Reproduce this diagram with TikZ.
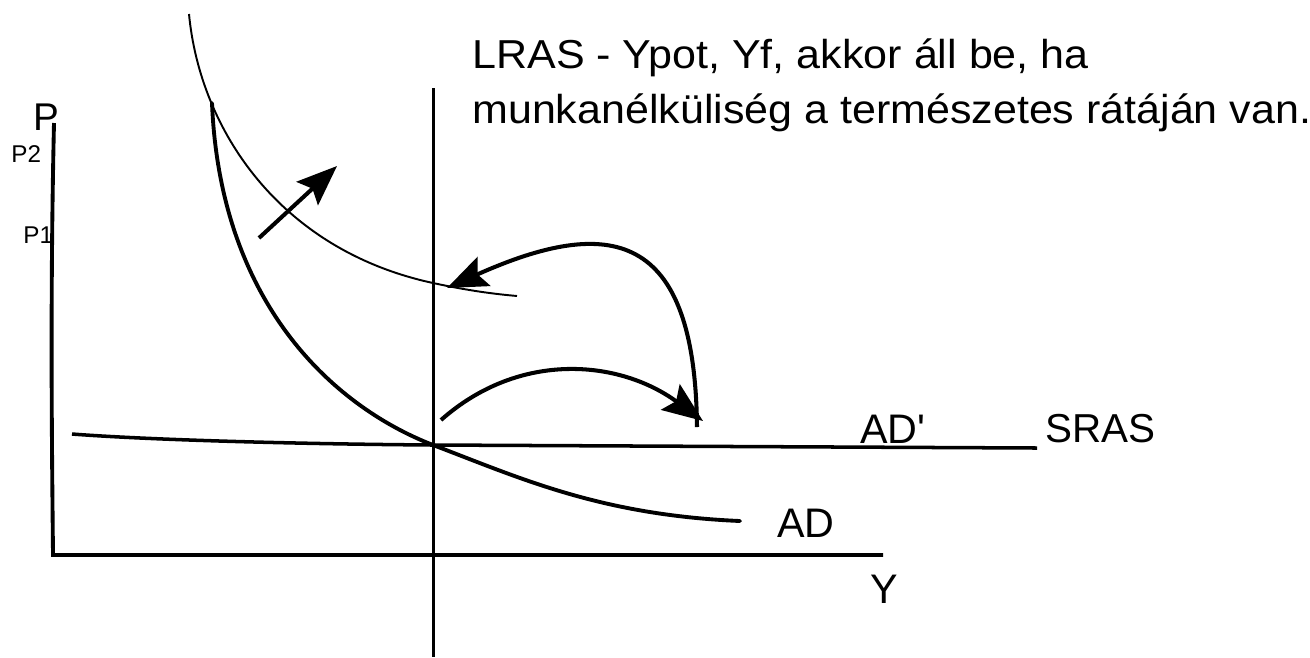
\documentclass[tikz,border=0pt]{standalone}
\usepackage{fontspec}
\setmainfont{Liberation Sans}[Ligatures=TeXOff]
\usetikzlibrary{arrows.meta}
\tikzset{
	thickline/.style={line width=2.2pt, line cap=round},
	thinline/.style={line width=1.1pt},
	bigarrow/.style={line width=2.3pt, -{Stealth[length=23pt,width=18pt,inset=4pt]}},
	lbl/.style={inner sep=0pt, anchor=base west, font=\fontsize{23.5}{28}\selectfont},
	smalllbl/.style={inner sep=0pt, anchor=base west, font=\fontsize{13.8}{16}\selectfont},
	notelbl/.style={inner sep=0pt, anchor=base west, font=\fontsize{23}{30}\selectfont},
}
\begin{document}
\begin{tikzpicture}[x=0.02cm,y=-0.02cm]
	\useasboundingbox (0,0) rectangle (1310,657);

	%axes
	\coordinate (ptop) at (54,123);
	\coordinate (orig) at (53,555);
	\coordinate (yend) at (883,555);
	\draw[thickline, line cap=butt] (ptop) .. controls (50,300) and (52,450) .. (orig) -- (yend);
	\node[lbl, font=\fontsize{22}{26}\selectfont] (plab) at (33,130) {P};
	\node[smalllbl] (ptwo) at (11,162) {P2};
	\node[smalllbl] (pone) at (23,243) {P1};
	\node[lbl, anchor=base] (ylab) at (884,603) {Y};

	% LRAS
	\coordinate (lrastop) at (433,88);
	\coordinate (lrasbot) at (433,657);
	\draw[line width=1.7pt] (lrastop) -- (lrasbot);
	\node[notelbl] (noteone) at (472,68) {\scalebox{1.065}[1]{LRAS - Ypot, Yf, akkor áll be, ha}};
	\node[notelbl] (notetwo) at (472,123) {\scalebox{1.064}[1]{munkanélküliség a természetes rátáján van.}};

	% SRAS
	\coordinate (srasstart) at (72,434);
	\coordinate (eq) at (433,445);
	\coordinate (srasend) at (1037,448);
	\draw[line width=2pt] (srasstart) .. controls (150,440) and (300,444) .. (eq) -- (srasend);
	\node[lbl, font=\fontsize{23}{26}\selectfont] (sras) at (1045,442) {SRAS};
	\node[lbl] (adprime) at (860,443) {AD'};

	% AD
	\draw[thickline] (212,103) .. controls (220,300) and (330,405) .. (eq) .. controls (520,478) and (600,515) .. (740,521);
	\node[lbl] (ad) at (777,537) {AD};

	% AD' 
	\draw[thinline] (189,14) .. controls (200,130) and (280,250) .. (433,283) .. controls (470,291) and (495,294) .. (517,296);

	%%% nyilak
	\coordinate (upstart) at (259,238);
	\coordinate (upend) at (337,166);
	\draw[bigarrow] (upstart) -- (upend);
	\coordinate (backstart) at (697,427);
	\coordinate (backend) at (447,288);
	\draw[bigarrow] (backstart) .. controls (695,230) and (610,215) .. (backend);
	\coordinate (outstart) at (441,420);
	\coordinate (outend) at (703,421);
	\draw[bigarrow] (outstart) .. controls (520,350) and (620,360) .. (outend);
\end{tikzpicture}
\end{document}
